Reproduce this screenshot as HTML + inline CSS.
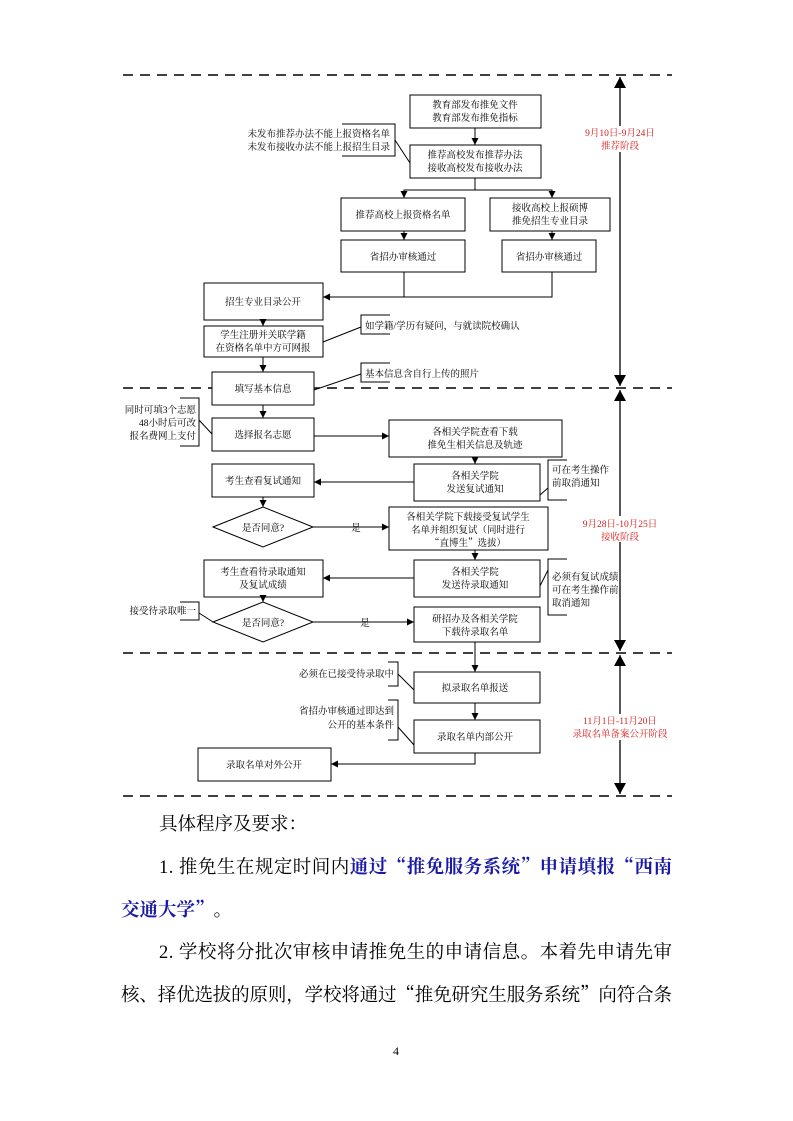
<!DOCTYPE html>
<html><head><meta charset="utf-8"><style>
html,body{margin:0;padding:0;background:#fff;}
svg{display:block;}
text{font-family:"Liberation Serif","Noto Serif CJK SC",serif;}
.q{font-family:"Noto Serif CJK SC",serif;}
</style></head><body>
<svg width="793" height="1121" viewBox="0 0 793 1121" xmlns="http://www.w3.org/2000/svg">
<defs>
<marker id="a" markerWidth="8" markerHeight="8" refX="7" refY="4" orient="auto" markerUnits="userSpaceOnUse"><path d="M0,0.5 L7,4 L0,7.5 z" fill="#000"/></marker>
<marker id="big" markerWidth="12" markerHeight="14" refX="11" refY="6" orient="auto-start-reverse" markerUnits="userSpaceOnUse"><path d="M0,0 L11,6 L0,12 z" fill="#000"/></marker>
</defs>
<g stroke="#000" stroke-width="1.6" stroke-dasharray="10,7">
<line x1="123" y1="75" x2="672" y2="75"/>
<line x1="123" y1="388" x2="672" y2="388"/>
<line x1="123" y1="653" x2="672" y2="653"/>
<line x1="123" y1="796" x2="672" y2="796"/>
</g>
<g stroke="#000" stroke-width="1.3">
<line x1="620" y1="77" x2="620" y2="386" marker-start="url(#big)" marker-end="url(#big)"/>
<line x1="620" y1="390" x2="620" y2="651" marker-start="url(#big)" marker-end="url(#big)"/>
<line x1="620" y1="655" x2="620" y2="794" marker-start="url(#big)" marker-end="url(#big)"/>
</g>
<g fill="#fff"><rect x="578" y="126" width="84" height="26"/><rect x="576" y="516" width="88" height="26"/><rect x="566" y="714" width="110" height="26"/></g>
<g fill="#d42020" font-size="9.5" text-anchor="middle">
<text x="620" y="136">9月10日-9月24日</text><text x="620" y="149">推荐阶段</text>
<text x="620" y="527">9月28日-10月25日</text><text x="620" y="540">接收阶段</text>
<text x="620" y="724">11月1日-11月20日</text><text x="620" y="737">录取名单备案公开阶段</text>
</g>
<g fill="none" stroke="#000" stroke-width="1">
<rect x="410" y="95" width="131" height="33"/>
<rect x="410" y="145" width="131" height="33"/>
<rect x="341" y="198" width="124" height="33"/>
<rect x="490" y="198" width="120" height="33"/>
<rect x="341" y="240" width="124" height="32"/>
<rect x="502" y="240" width="94" height="32"/>
<rect x="204" y="283" width="119" height="37"/>
<rect x="204" y="326" width="119" height="31"/>
<rect x="212" y="372" width="102" height="33" fill="#fff"/>
<rect x="212" y="418" width="102" height="33"/>
<rect x="389" y="420" width="173" height="37"/>
<rect x="414" y="464" width="126" height="37"/>
<rect x="212" y="464" width="102" height="33"/>
<polygon points="213,527 263,507 313,527 263,547"/>
<rect x="389" y="507" width="159" height="43"/>
<rect x="414" y="560" width="126" height="37"/>
<rect x="204" y="560" width="119" height="37"/>
<polygon points="213,622 263,602 313,622 263,642"/>
<rect x="414" y="607" width="126" height="35"/>
<rect x="414" y="672" width="126" height="31"/>
<rect x="414" y="720" width="126" height="33"/>
<rect x="198" y="748" width="133" height="33"/>
<line x1="475" y1="128" x2="475" y2="145" marker-end="url(#a)"/>
<polyline points="475,178 475,190 404,190 404,198" marker-end="url(#a)"/>
<polyline points="475,190 552,190 552,198" marker-end="url(#a)"/>
<line x1="404" y1="231" x2="404" y2="240" marker-end="url(#a)"/>
<line x1="552" y1="231" x2="552" y2="240" marker-end="url(#a)"/>
<polyline points="404,272 404,297 323,297" marker-end="url(#a)"/>
<polyline points="552,272 552,297 404,297"/>
<line x1="263" y1="320" x2="263" y2="326" marker-end="url(#a)"/>
<line x1="263" y1="357" x2="263" y2="372" marker-end="url(#a)"/>
<line x1="263" y1="405" x2="263" y2="418" marker-end="url(#a)"/>
<line x1="314" y1="436" x2="389" y2="436" marker-end="url(#a)"/>
<line x1="475" y1="457" x2="475" y2="464" marker-end="url(#a)"/>
<line x1="414" y1="482" x2="314" y2="482" marker-end="url(#a)"/>
<line x1="263" y1="497" x2="263" y2="507" marker-end="url(#a)"/>
<line x1="313" y1="527" x2="389" y2="527" marker-end="url(#a)"/>
<line x1="475" y1="550" x2="475" y2="560" marker-end="url(#a)"/>
<line x1="414" y1="578" x2="323" y2="578" marker-end="url(#a)"/>
<line x1="263" y1="597" x2="263" y2="602" marker-end="url(#a)"/>
<line x1="313" y1="622" x2="414" y2="622" marker-end="url(#a)"/>
<line x1="475" y1="642" x2="475" y2="672" marker-end="url(#a)"/>
<line x1="475" y1="703" x2="475" y2="720" marker-end="url(#a)"/>
<polyline points="475,753 475,764 331,764" marker-end="url(#a)"/>
<polyline points="342,124 395,124 395,156 342,156"/><line x1="395" y1="140" x2="410" y2="163"/>
<polyline points="390,315 361,315 361,334 390,334"/><line x1="361" y1="327" x2="323" y2="342"/>
<polyline points="390,363 361,363 361,382 390,382"/><line x1="361" y1="374" x2="314" y2="390"/>
<polyline points="180,398 199,398 199,446 180,446"/><line x1="199" y1="420" x2="212" y2="434"/>
<polyline points="567,460 548,460 548,500 567,500"/><line x1="548" y1="488" x2="540" y2="495"/>
<polyline points="567,559 548,559 548,615 567,615"/><line x1="548" y1="570" x2="540" y2="586"/>
<polyline points="180,602 199,602 199,620 180,620"/><line x1="199" y1="613" x2="213" y2="622"/>
<polyline points="388,662 398,662 398,686 388,686"/><line x1="398" y1="674" x2="414" y2="690"/>
<polyline points="388,700 398,700 398,740 388,740"/><line x1="398" y1="727" x2="414" y2="745"/>
</g>
<g fill="#000" font-size="9.5" text-anchor="middle">
<text x="475" y="108">教育部发布推免文件</text><text x="475" y="121">教育部发布推免指标</text>
<text x="475" y="158">推荐高校发布推荐办法</text><text x="475" y="171">接收高校发布接收办法</text>
<text x="403" y="218">推荐高校上报资格名单</text>
<text x="550" y="211">接收高校上报硕博</text><text x="550" y="224">推免招生专业目录</text>
<text x="403" y="260">省招办审核通过</text><text x="549" y="260">省招办审核通过</text>
<text x="263" y="305">招生专业目录公开</text>
<text x="263" y="338">学生注册并关联学籍</text><text x="263" y="351">在资格名单中方可网报</text>
<text x="263" y="392">填写基本信息</text>
<text x="263" y="438">选择报名志愿</text>
<text x="475" y="435">各相关学院查看下载</text><text x="475" y="448">推免生相关信息及轨迹</text>
<text x="475" y="479">各相关学院</text><text x="475" y="492">发送复试通知</text>
<text x="263" y="484">考生查看复试通知</text>
<text x="263" y="531">是否同意?</text>
<text x="356" y="531">是</text>
<text x="468" y="520">各相关学院下载接受复试学生</text><text x="468" y="533">名单并组织复试（同时进行</text><text x="468" y="546"><tspan class="q">“</tspan>直博生<tspan class="q">”</tspan>选拔）</text>
<text x="475" y="575">各相关学院</text><text x="475" y="588">发送待录取通知</text>
<text x="263" y="575">考生查看待录取通知</text><text x="263" y="588">及复试成绩</text>
<text x="263" y="626">是否同意?</text>
<text x="365" y="626">是</text>
<text x="475" y="622">研招办及各相关学院</text><text x="475" y="635">下载待录取名单</text>
<text x="475" y="691">拟录取名单报送</text>
<text x="475" y="740">录取名单内部公开</text>
<text x="264" y="768">录取名单对外公开</text>
</g>
<g fill="#000" font-size="9.5" text-anchor="end">
<text x="390" y="137">未发布推荐办法不能上报资格名单</text><text x="390" y="150">未发布接收办法不能上报招生目录</text>
<text x="196" y="413">同时可填3个志愿</text><text x="196" y="426">48小时后可改</text><text x="196" y="439">报名费网上支付</text>
<text x="196" y="614">接受待录取唯一</text>
<text x="394" y="677">必须在已接受待录取中</text>
<text x="394" y="714">省招办审核通过即达到</text><text x="394" y="728">公开的基本条件</text>
</g>
<g fill="#000" font-size="9.5">
<text x="365" y="329">如学籍/学历有疑问，与就读院校确认</text>
<text x="365" y="377">基本信息含自行上传的照片</text>
<text x="552" y="473">可在考生操作</text><text x="552" y="486">前取消通知</text>
<text x="552" y="580">必须有复试成绩</text><text x="552" y="593">可在考生操作前</text><text x="552" y="606">取消通知</text>
</g>
<g font-size="18.5" fill="#000">
<text x="159" y="830">具体程序及要求：</text>
<text x="159" y="873" textLength="513" lengthAdjust="spacing">1. 推免生在规定时间内<tspan fill="#1a1aa8" font-weight="bold">通过<tspan class="q">“</tspan>推免服务系统<tspan class="q">”</tspan>申请填报<tspan class="q">“</tspan>西南</tspan></text>
<text x="121" y="916"><tspan fill="#1a1aa8" font-weight="bold">交通大学<tspan class="q">”</tspan></tspan>。</text>
<text x="159" y="958" textLength="513" lengthAdjust="spacing">2. 学校将分批次审核申请推免生的申请信息。本着先申请先审</text>
<text x="121" y="1001" textLength="551" lengthAdjust="spacing">核、择优选拔的原则，学校将通过<tspan class="q">“</tspan>推免研究生服务系统<tspan class="q">”</tspan>向符合条</text>
</g>
<text x="396" y="1055" font-size="12" text-anchor="middle" fill="#000">4</text>
</svg>
</body></html>
